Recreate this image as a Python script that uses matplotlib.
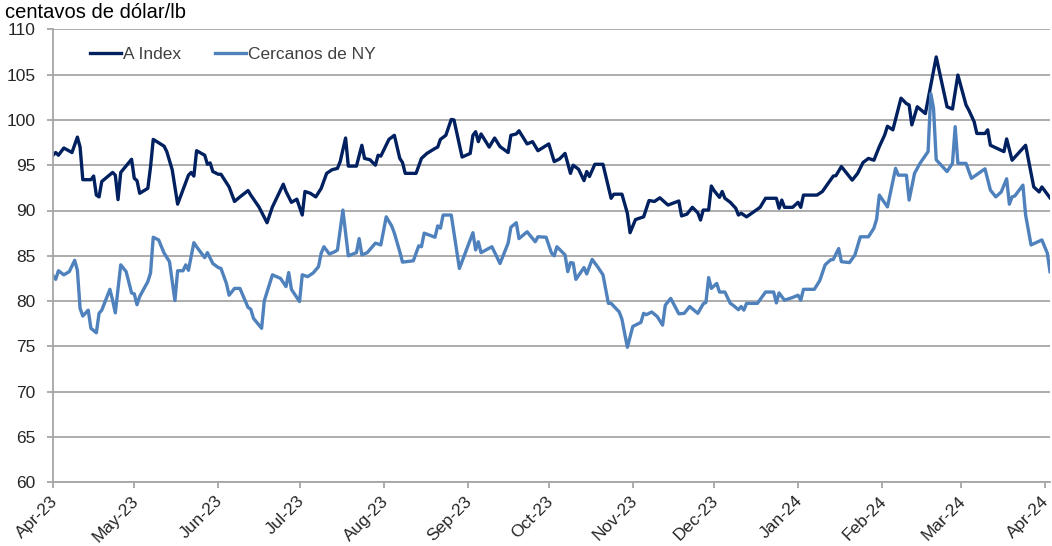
import matplotlib
matplotlib.use('Agg')
import matplotlib.pyplot as plt
import matplotlib.dates as mdates
import matplotlib.transforms as mtransforms
import pandas as pd

# A Index (centavos de dólar/lb)
a_dates = [
    '2023-04-01', '2023-04-02', '2023-04-03', '2023-04-05', '2023-04-08', '2023-04-10', '2023-04-11',
    '2023-04-12', '2023-04-15', '2023-04-16', '2023-04-17', '2023-04-18', '2023-04-19', '2023-04-23',
    '2023-04-24', '2023-04-25', '2023-04-26', '2023-04-30', '2023-05-01', '2023-05-02', '2023-05-03',
    '2023-05-06', '2023-05-07', '2023-05-08', '2023-05-12', '2023-05-13', '2023-05-15', '2023-05-17',
    '2023-05-21', '2023-05-22', '2023-05-23', '2023-05-24', '2023-05-27', '2023-05-28', '2023-05-29',
    '2023-05-30', '2023-06-01', '2023-06-02', '2023-06-05', '2023-06-07', '2023-06-09', '2023-06-12',
    '2023-06-13', '2023-06-16', '2023-06-19', '2023-06-21', '2023-06-25', '2023-06-26', '2023-06-28',
    '2023-06-30', '2023-07-02', '2023-07-03', '2023-07-05', '2023-07-07', '2023-07-09', '2023-07-11',
    '2023-07-13', '2023-07-15', '2023-07-16', '2023-07-18', '2023-07-19', '2023-07-22', '2023-07-24',
    '2023-07-25', '2023-07-27', '2023-07-29', '2023-07-30', '2023-07-31', '2023-08-03', '2023-08-05',
    '2023-08-07', '2023-08-08', '2023-08-09', '2023-08-13', '2023-08-15', '2023-08-17', '2023-08-20',
    '2023-08-21', '2023-08-22', '2023-08-24', '2023-08-26', '2023-08-27', '2023-08-30', '2023-09-02',
    '2023-09-03', '2023-09-04', '2023-09-05', '2023-09-06', '2023-09-09', '2023-09-11', '2023-09-13',
    '2023-09-16', '2023-09-17', '2023-09-19', '2023-09-20', '2023-09-23', '2023-09-25', '2023-09-27',
    '2023-10-01', '2023-10-03', '2023-10-05', '2023-10-07', '2023-10-09', '2023-10-10', '2023-10-12',
    '2023-10-14', '2023-10-15', '2023-10-16', '2023-10-18', '2023-10-21', '2023-10-24', '2023-10-25',
    '2023-10-28', '2023-10-30', '2023-10-31', '2023-11-02', '2023-11-05', '2023-11-07', '2023-11-09',
    '2023-11-11', '2023-11-14', '2023-11-18', '2023-11-19', '2023-11-21', '2023-11-23', '2023-11-25',
    '2023-11-26', '2023-11-27', '2023-11-29', '2023-11-30', '2023-12-01', '2023-12-03', '2023-12-04',
    '2023-12-05', '2023-12-07', '2023-12-09', '2023-12-10', '2023-12-11', '2023-12-13', '2023-12-18',
    '2023-12-20', '2023-12-24', '2023-12-25', '2023-12-26', '2023-12-27', '2023-12-30', '2024-01-01',
    '2024-01-02', '2024-01-03', '2024-01-08', '2024-01-10', '2024-01-14', '2024-01-15', '2024-01-17',
    '2024-01-19', '2024-01-21', '2024-01-23', '2024-01-25', '2024-01-27', '2024-01-29', '2024-01-31',
    '2024-02-02', '2024-02-03', '2024-02-05', '2024-02-08', '2024-02-10', '2024-02-11', '2024-02-12',
    '2024-02-14', '2024-02-17', '2024-02-21', '2024-02-23', '2024-02-25', '2024-02-27', '2024-02-29',
    '2024-03-03', '2024-03-04', '2024-03-06', '2024-03-07', '2024-03-10', '2024-03-11', '2024-03-12',
    '2024-03-17', '2024-03-18', '2024-03-20', '2024-03-25', '2024-03-28', '2024-03-30', '2024-03-31',
    '2024-04-03',
]
a_index = [
    96.1, 96.4, 96.1, 96.9, 96.4, 98.1, 97.0,
    93.4, 93.4, 93.8, 91.7, 91.5, 93.2, 94.2,
    93.9, 91.2, 94.2, 95.65, 93.55, 93.3, 91.9,
    92.45, 94.8, 97.85, 97.1, 96.5, 94.5, 90.7,
    93.9, 94.2, 93.8, 96.6, 96.1, 95.1, 95.25,
    94.3, 94.0, 94.0, 92.6, 91.0, 91.5, 92.2,
    91.7, 90.4, 88.65, 90.4, 92.9, 92.1, 90.9,
    91.25, 89.5, 92.1, 91.9, 91.5, 92.45, 94.1,
    94.5, 94.65, 95.4, 98.0, 94.9, 94.9, 97.2,
    95.75, 95.6, 95.0, 96.1, 96.0, 97.85, 98.3,
    95.75, 95.3, 94.1, 94.1, 95.75, 96.3, 96.85,
    97.0, 97.85, 98.3, 100.05, 100.0, 95.9, 96.3,
    98.3, 98.7, 97.6, 98.45, 97.0, 98.0, 97.05,
    96.4, 98.3, 98.45, 98.8, 97.35, 97.6, 96.6,
    97.35, 95.4, 95.7, 96.3, 94.1, 95.0, 94.55,
    93.3, 94.3, 93.75, 95.1, 95.1, 91.35, 91.8,
    91.8, 89.7, 87.55, 89.0, 89.3, 91.1, 91.0,
    91.4, 90.6, 91.05, 89.4, 89.6, 90.35, 89.75,
    88.95, 90.05, 90.05, 92.7, 92.2, 91.45, 92.1,
    91.35, 90.9, 90.25, 89.5, 89.7, 89.3, 90.35,
    91.35, 91.35, 90.25, 91.15, 90.35, 90.35, 90.9,
    90.35, 91.7, 91.7, 92.1, 93.8, 93.85, 94.85,
    94.1, 93.35, 94.1, 95.3, 95.75, 95.55, 97.05,
    98.35, 99.3, 98.9, 102.4, 101.8, 101.65, 99.45,
    101.45, 100.7, 106.95, 104.2, 101.45, 101.2, 104.95,
    101.65, 101.1, 99.8, 98.5, 98.5, 98.9, 97.2,
    96.5, 97.9, 95.55, 97.2, 92.6, 92.05, 92.6,
    91.4,
]

# Cercanos de NY
ny_dates = [
    '2023-04-01', '2023-04-02', '2023-04-03', '2023-04-05', '2023-04-07', '2023-04-09', '2023-04-10',
    '2023-04-11', '2023-04-12', '2023-04-14', '2023-04-15', '2023-04-17', '2023-04-18', '2023-04-19',
    '2023-04-22', '2023-04-23', '2023-04-24', '2023-04-26', '2023-04-28', '2023-04-30', '2023-05-01',
    '2023-05-02', '2023-05-03', '2023-05-06', '2023-05-07', '2023-05-08', '2023-05-10', '2023-05-12',
    '2023-05-14', '2023-05-16', '2023-05-17', '2023-05-19', '2023-05-20', '2023-05-21', '2023-05-23',
    '2023-05-24', '2023-05-27', '2023-05-28', '2023-05-30', '2023-06-01', '2023-06-02', '2023-06-04',
    '2023-06-05', '2023-06-07', '2023-06-09', '2023-06-12', '2023-06-13', '2023-06-14', '2023-06-17',
    '2023-06-18', '2023-06-21', '2023-06-24', '2023-06-26', '2023-06-27', '2023-06-28', '2023-07-01',
    '2023-07-02', '2023-07-04', '2023-07-06', '2023-07-08', '2023-07-09', '2023-07-10', '2023-07-12',
    '2023-07-14', '2023-07-15', '2023-07-17', '2023-07-19', '2023-07-22', '2023-07-23', '2023-07-24',
    '2023-07-26', '2023-07-29', '2023-07-31', '2023-08-02', '2023-08-04', '2023-08-05', '2023-08-07',
    '2023-08-08', '2023-08-12', '2023-08-14', '2023-08-15', '2023-08-16', '2023-08-20', '2023-08-21',
    '2023-08-22', '2023-08-23', '2023-08-26', '2023-08-29', '2023-09-03', '2023-09-04', '2023-09-05',
    '2023-09-06', '2023-09-10', '2023-09-13', '2023-09-16', '2023-09-17', '2023-09-19', '2023-09-20',
    '2023-09-23', '2023-09-26', '2023-09-27', '2023-09-30', '2023-10-02', '2023-10-03', '2023-10-04',
    '2023-10-07', '2023-10-08', '2023-10-09', '2023-10-10', '2023-10-11', '2023-10-14', '2023-10-15',
    '2023-10-17', '2023-10-19', '2023-10-21', '2023-10-23', '2023-10-24', '2023-10-27', '2023-10-28',
    '2023-10-30', '2023-11-01', '2023-11-03', '2023-11-04', '2023-11-05', '2023-11-06', '2023-11-08',
    '2023-11-10', '2023-11-12', '2023-11-13', '2023-11-15', '2023-11-18', '2023-11-20', '2023-11-22',
    '2023-11-25', '2023-11-27', '2023-11-28', '2023-11-29', '2023-11-30', '2023-12-02', '2023-12-03',
    '2023-12-05', '2023-12-07', '2023-12-08', '2023-12-10', '2023-12-11', '2023-12-12', '2023-12-13',
    '2023-12-17', '2023-12-20', '2023-12-23', '2023-12-24', '2023-12-25', '2023-12-27', '2023-12-30',
    '2024-01-01', '2024-01-02', '2024-01-03', '2024-01-07', '2024-01-09', '2024-01-11', '2024-01-13',
    '2024-01-14', '2024-01-16', '2024-01-17', '2024-01-20', '2024-01-22', '2024-01-24', '2024-01-27',
    '2024-01-29', '2024-01-30', '2024-01-31', '2024-02-03', '2024-02-06', '2024-02-07', '2024-02-10',
    '2024-02-11', '2024-02-13', '2024-02-15', '2024-02-18', '2024-02-19', '2024-02-20', '2024-02-21',
    '2024-02-25', '2024-02-27', '2024-02-28', '2024-02-29', '2024-03-03', '2024-03-05', '2024-03-10',
    '2024-03-12', '2024-03-14', '2024-03-16', '2024-03-18', '2024-03-19', '2024-03-20', '2024-03-21',
    '2024-03-24', '2024-03-25', '2024-03-27', '2024-03-31', '2024-04-02', '2024-04-03',
]
ny_values = [
    82.8, 82.4, 83.35, 82.9, 83.25, 84.5, 83.4,
    79.2, 78.35, 79.0, 77.0, 76.5, 78.65, 79.0,
    81.3, 80.1, 78.7, 84.0, 83.25, 80.9, 80.8,
    79.6, 80.5, 82.15, 83.1, 87.05, 86.75, 85.3,
    84.35, 80.05, 83.35, 83.35, 84.0, 83.4, 86.45,
    86.0, 84.8, 85.35, 84.15, 83.7, 83.6, 81.95,
    80.65, 81.4, 81.4, 79.3, 79.1, 78.1, 77.0,
    80.05, 82.9, 82.5, 81.6, 83.15, 81.3, 79.95,
    82.9, 82.7, 83.1, 83.8, 85.3, 86.0, 85.2,
    85.45, 85.65, 90.05, 85.0, 85.35, 86.9, 85.1,
    85.35, 86.4, 86.2, 89.3, 88.3, 87.5, 85.45,
    84.3, 84.45, 86.1, 86.0, 87.5, 87.05, 88.3,
    88.05, 89.5, 89.5, 83.6, 87.55, 85.65, 86.55,
    85.35, 86.0, 84.15, 86.4, 88.15, 88.65, 86.9,
    87.65, 86.55, 87.1, 87.05, 85.3, 85.0, 86.0,
    85.1, 83.25, 84.25, 84.2, 82.4, 83.7, 83.0,
    84.6, 83.8, 82.9, 79.75, 79.75, 78.8, 78.0,
    74.9, 77.2, 77.5, 77.65, 78.65, 78.5, 78.8,
    78.3, 77.35, 79.55, 80.3, 78.6, 78.65, 79.4,
    78.65, 79.7, 79.85, 82.6, 81.4, 81.95, 81.0,
    81.0, 79.75, 79.55, 79.05, 79.4, 79.0, 79.75,
    79.75, 81.0, 81.0, 79.8, 80.9, 80.1, 80.4,
    80.65, 80.1, 81.3, 81.3, 82.25, 84.0, 84.55,
    84.6, 85.8, 84.35, 84.25, 85.1, 87.1, 87.1,
    88.05, 89.05, 91.7, 90.4, 94.65, 93.9, 93.9,
    91.15, 94.1, 95.2, 96.5, 102.9, 101.3, 95.6,
    94.3, 95.2, 99.25, 95.2, 95.2, 93.55, 94.6,
    92.25, 91.5, 92.05, 93.5, 90.7, 91.5, 91.6,
    92.8, 89.5, 86.2, 86.75, 85.3, 83.25,
]

month_ticks = pd.date_range('2023-04-01', '2024-04-01', freq='MS')

plt.rcParams['font.family'] = ['Liberation Sans', 'DejaVu Sans']

fig = plt.figure(figsize=(10.52, 5.46), dpi=100)
ax = fig.add_axes([53 / 1052, 1 - 482.3 / 546, 997 / 1052, (482.3 - 29.3) / 546])

ax.plot(pd.to_datetime(a_dates), a_index, color='#002060', linewidth=2.4,
        label='A Index', solid_joinstyle='round')
ax.plot(pd.to_datetime(ny_dates), ny_values, color='#4F81BD', linewidth=2.4,
        label='Cercanos de NY', solid_joinstyle='round')

ax.set_xlim(pd.Timestamp('2023-04-01'), pd.Timestamp('2024-04-03'))
ax.set_ylim(60, 110)
ax.set_yticks(range(60, 111, 5))
ax.set_xticks(month_ticks)
ax.xaxis.set_major_formatter(mdates.DateFormatter('%b-%y'))

ax.grid(axis='y', color='#A6A6A6', linewidth=1.3)
ax.set_axisbelow(True)
for side in ['top', 'right']:
    ax.spines[side].set_visible(False)
for side in ['left', 'bottom']:
    ax.spines[side].set_color('#A6A6A6')
    ax.spines[side].set_linewidth(1.3)

ax.tick_params(axis='both', colors='#A6A6A6', labelcolor='#262626', labelsize=12.5, width=1.3)
ax.tick_params(axis='y', length=4.5, pad=8)
ax.tick_params(axis='x', length=4, pad=4)
shift = mtransforms.ScaledTranslation(-3 / 100, 0, fig.dpi_scale_trans)
for lbl in ax.get_xticklabels():
    lbl.set_rotation(45)
    lbl.set_ha('right')
    lbl.set_rotation_mode('anchor')
    lbl.set_transform(lbl.get_transform() + shift)

fig.text(5 / 1052, 1 - 18 / 546, 'centavos de dólar/lb', fontsize=14.5, color='#000000',
         va='baseline', ha='left')

ax.legend(loc='upper left', bbox_to_anchor=(0.021, 0.995), ncol=2, frameon=False, fontsize=12.5,
          handlelength=1.8, handletextpad=0.15, columnspacing=1.9, labelcolor='#404040')

fig.savefig('out.png', dpi=100)
